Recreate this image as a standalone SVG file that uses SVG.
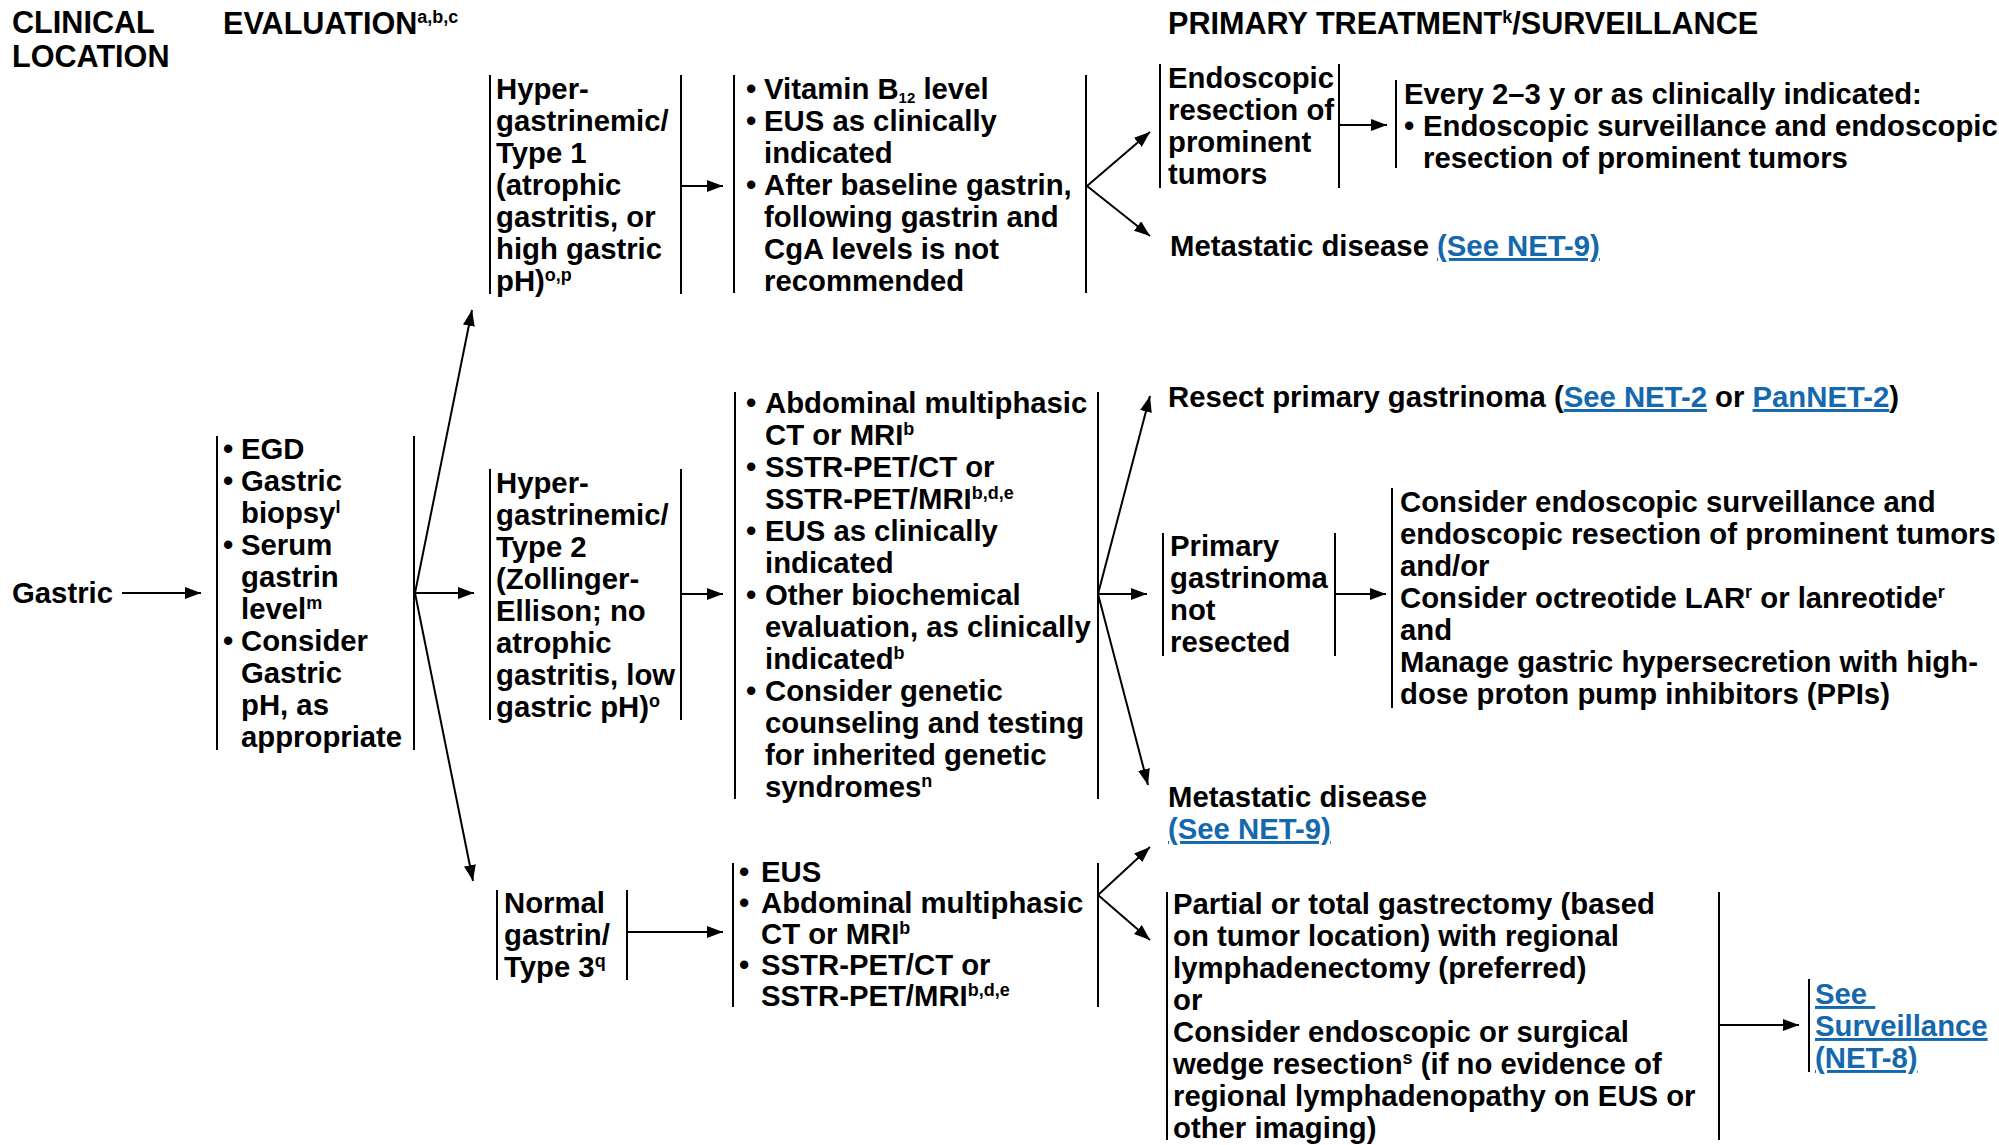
<svg xmlns="http://www.w3.org/2000/svg" width="1999" height="1145" viewBox="0 0 1999 1145">
<style>
text { font-family: "Liberation Sans", Arial, Helvetica, sans-serif; font-weight: bold; font-size: 29.3px; fill: #000; }
.h { font-size: 30.6px; }
.sup { font-size: 18px; }
.lk { fill: #1468ad; text-decoration: underline; }
.bar { stroke: #000; stroke-width: 2; fill: none; }
.c line { stroke: #000; stroke-width: 2; fill: none; marker-end: url(#ah); }
</style>
<defs>
<marker id="ah" markerUnits="userSpaceOnUse" markerWidth="17" markerHeight="12" refX="16" refY="6" orient="auto">
<path d="M0,0 L16,6 L0,12 z" fill="#000"/>
</marker>
</defs>
<rect width="1999" height="1145" fill="#fff"/>

<g id="headers">
<text class="h" x="12" y="33">CLINICAL</text>
<text class="h" x="12" y="67">LOCATION</text>
<text class="h" x="223" y="34">EVALUATION<tspan class="sup" dy="-11">a,b,c</tspan></text>
<text class="h" x="1168" y="34">PRIMARY TREATMENT<tspan class="sup" dy="-11">k</tspan><tspan dy="11">/SURVEILLANCE</tspan></text>
</g>

<g id="gastric">
<text x="12" y="603">Gastric</text>
</g>

<g id="evaluation">
<line class="bar" x1="217" y1="436" x2="217" y2="750"/>
<line class="bar" x1="414" y1="436" x2="414" y2="750"/>
<text x="223" y="459">•<tspan x="241">EGD</tspan></text>
<text x="223" y="491">•<tspan x="241">Gastric</tspan></text>
<text x="241" y="523">biopsy<tspan class="sup" dy="-10">l</tspan></text>
<text x="223" y="555">•<tspan x="241">Serum</tspan></text>
<text x="241" y="587">gastrin</text>
<text x="241" y="619">level<tspan class="sup" dy="-10">m</tspan></text>
<text x="223" y="651">•<tspan x="241">Consider</tspan></text>
<text x="241" y="683">Gastric</text>
<text x="241" y="715">pH, as</text>
<text x="241" y="747">appropriate</text>
</g>

<g id="type1">
<line class="bar" x1="490" y1="75" x2="490" y2="294"/>
<line class="bar" x1="681" y1="75" x2="681" y2="294"/>
<text x="496" y="99">Hyper-</text>
<text x="496" y="131">gastrinemic/</text>
<text x="496" y="163">Type 1</text>
<text x="496" y="195">(atrophic</text>
<text x="496" y="227">gastritis, or</text>
<text x="496" y="259">high gastric</text>
<text x="496" y="291">pH)<tspan class="sup" dy="-10">o,p</tspan></text>
</g>

<g id="type1-eval">
<line class="bar" x1="734" y1="75" x2="734" y2="293"/>
<line class="bar" x1="1086" y1="75" x2="1086" y2="293"/>
<text x="746" y="99">•<tspan x="764">Vitamin B</tspan><tspan font-size="15" dy="4">12</tspan><tspan dy="-4"> level</tspan></text>
<text x="746" y="131">•<tspan x="764">EUS as clinically</tspan></text>
<text x="764" y="163">indicated</text>
<text x="746" y="195">•<tspan x="764">After baseline gastrin,</tspan></text>
<text x="764" y="227">following gastrin and</text>
<text x="764" y="259">CgA levels is not</text>
<text x="764" y="291">recommended</text>
</g>

<g id="endoscopic-resection">
<line class="bar" x1="1160" y1="64" x2="1160" y2="188"/>
<line class="bar" x1="1339" y1="64" x2="1339" y2="188"/>
<text x="1168" y="88">Endoscopic</text>
<text x="1168" y="120">resection of</text>
<text x="1168" y="152">prominent</text>
<text x="1168" y="184">tumors</text>
</g>

<g id="surveillance-type1">
<line class="bar" x1="1396" y1="80" x2="1396" y2="168"/>
<text x="1404" y="104">Every 2–3 y or as clinically indicated:</text>
<text x="1404" y="136">•<tspan x="1423">Endoscopic surveillance and endoscopic</tspan></text>
<text x="1423" y="168">resection of prominent tumors</text>
</g>

<g id="metastatic-type1">
<text x="1170" y="256">Metastatic disease <tspan class="lk">(See NET-9)</tspan></text>
</g>

<g id="type2">
<line class="bar" x1="490" y1="469" x2="490" y2="720"/>
<line class="bar" x1="681" y1="469" x2="681" y2="720"/>
<text x="496" y="493">Hyper-</text>
<text x="496" y="525">gastrinemic/</text>
<text x="496" y="557">Type 2</text>
<text x="496" y="589">(Zollinger-</text>
<text x="496" y="621">Ellison; no</text>
<text x="496" y="653">atrophic</text>
<text x="496" y="685">gastritis, low</text>
<text x="496" y="717">gastric pH)<tspan class="sup" dy="-10">o</tspan></text>
</g>

<g id="type2-eval">
<line class="bar" x1="735" y1="392" x2="735" y2="799"/>
<line class="bar" x1="1098" y1="392" x2="1098" y2="799"/>
<text x="746" y="413">•<tspan x="765">Abdominal multiphasic</tspan></text>
<text x="765" y="445">CT or MRI<tspan class="sup" dy="-10">b</tspan></text>
<text x="746" y="477">•<tspan x="765">SSTR-PET/CT or</tspan></text>
<text x="765" y="509">SSTR-PET/MRI<tspan class="sup" dy="-10">b,d,e</tspan></text>
<text x="746" y="541">•<tspan x="765">EUS as clinically</tspan></text>
<text x="765" y="573">indicated</text>
<text x="746" y="605">•<tspan x="765">Other biochemical</tspan></text>
<text x="765" y="637">evaluation, as clinically</text>
<text x="765" y="669">indicated<tspan class="sup" dy="-10">b</tspan></text>
<text x="746" y="701">•<tspan x="765">Consider genetic</tspan></text>
<text x="765" y="733">counseling and testing</text>
<text x="765" y="765">for inherited genetic</text>
<text x="765" y="797">syndromes<tspan class="sup" dy="-10">n</tspan></text>
</g>

<g id="resect-primary">
<text x="1168" y="407">Resect primary gastrinoma (<tspan class="lk">See NET-2</tspan> or <tspan class="lk">PanNET-2</tspan>)</text>
</g>

<g id="not-resected">
<line class="bar" x1="1163" y1="533" x2="1163" y2="656"/>
<line class="bar" x1="1335" y1="533" x2="1335" y2="656"/>
<text x="1170" y="556">Primary</text>
<text x="1170" y="588">gastrinoma</text>
<text x="1170" y="620">not</text>
<text x="1170" y="652">resected</text>
</g>

<g id="not-resected-options">
<line class="bar" x1="1392" y1="488" x2="1392" y2="708"/>
<text x="1400" y="512">Consider endoscopic surveillance and</text>
<text x="1400" y="544">endoscopic resection of prominent tumors</text>
<text x="1400" y="576">and/or</text>
<text x="1400" y="608">Consider octreotide LAR<tspan class="sup" dy="-10">r</tspan><tspan dy="10"> or lanreotide</tspan><tspan class="sup" dy="-10">r</tspan></text>
<text x="1400" y="640">and</text>
<text x="1400" y="672">Manage gastric hypersecretion with high-</text>
<text x="1400" y="704">dose proton pump inhibitors (PPIs)</text>
</g>

<g id="metastatic-type2">
<text x="1168" y="807">Metastatic disease</text>
<text x="1168" y="839" class="lk">(See NET-9)</text>
</g>

<g id="type3">
<line class="bar" x1="497" y1="890" x2="497" y2="980"/>
<line class="bar" x1="627" y1="890" x2="627" y2="980"/>
<text x="504" y="913">Normal</text>
<text x="504" y="945">gastrin/</text>
<text x="504" y="977">Type 3<tspan class="sup" dy="-10">q</tspan></text>
</g>

<g id="type3-eval">
<line class="bar" x1="733" y1="863" x2="733" y2="1007"/>
<line class="bar" x1="1098" y1="863" x2="1098" y2="1007"/>
<text x="739" y="882">•<tspan x="761">EUS</tspan></text>
<text x="739" y="913">•<tspan x="761">Abdominal multiphasic</tspan></text>
<text x="761" y="944">CT or MRI<tspan class="sup" dy="-10">b</tspan></text>
<text x="739" y="975">•<tspan x="761">SSTR-PET/CT or</tspan></text>
<text x="761" y="1006">SSTR-PET/MRI<tspan class="sup" dy="-10">b,d,e</tspan></text>
</g>

<g id="gastrectomy">
<line class="bar" x1="1167" y1="892" x2="1167" y2="1140"/>
<line class="bar" x1="1719" y1="892" x2="1719" y2="1140"/>
<text x="1173" y="914">Partial or total gastrectomy (based</text>
<text x="1173" y="946">on tumor location) with regional</text>
<text x="1173" y="978">lymphadenectomy (preferred)</text>
<text x="1173" y="1010">or</text>
<text x="1173" y="1042">Consider endoscopic or surgical</text>
<text x="1173" y="1074">wedge resection<tspan class="sup" dy="-10">s</tspan><tspan dy="10"> (if no evidence of</tspan></text>
<text x="1173" y="1106">regional lymphadenopathy on EUS or</text>
<text x="1173" y="1138">other imaging)</text>
</g>

<g id="see-surveillance">
<line class="bar" x1="1809" y1="979" x2="1809" y2="1072"/>
<text x="1815" y="1004" class="lk">See&#160;</text>
<text x="1815" y="1036" class="lk">Surveillance</text>
<text x="1815" y="1068" class="lk">(NET-8)</text>
</g>

<g id="connectors" class="c">
<line x1="122" y1="593" x2="201" y2="593"/>
<line x1="415" y1="593" x2="472" y2="310"/>
<line x1="415" y1="593" x2="474" y2="593"/>
<line x1="415" y1="593" x2="473" y2="881"/>
<line x1="681" y1="186" x2="723" y2="186"/>
<line x1="1087" y1="186" x2="1150" y2="132"/>
<line x1="1087" y1="186" x2="1150" y2="236"/>
<line x1="1339" y1="125" x2="1387" y2="125"/>
<line x1="681" y1="594" x2="723" y2="594"/>
<line x1="1098" y1="594" x2="1150" y2="396"/>
<line x1="1098" y1="594" x2="1147" y2="594"/>
<line x1="1098" y1="594" x2="1148" y2="785"/>
<line x1="1335" y1="594" x2="1386" y2="594"/>
<line x1="627" y1="932" x2="723" y2="932"/>
<line x1="1098" y1="895" x2="1150" y2="847"/>
<line x1="1098" y1="895" x2="1150" y2="940"/>
<line x1="1719" y1="1025" x2="1799" y2="1025"/>
</g>
</svg>
